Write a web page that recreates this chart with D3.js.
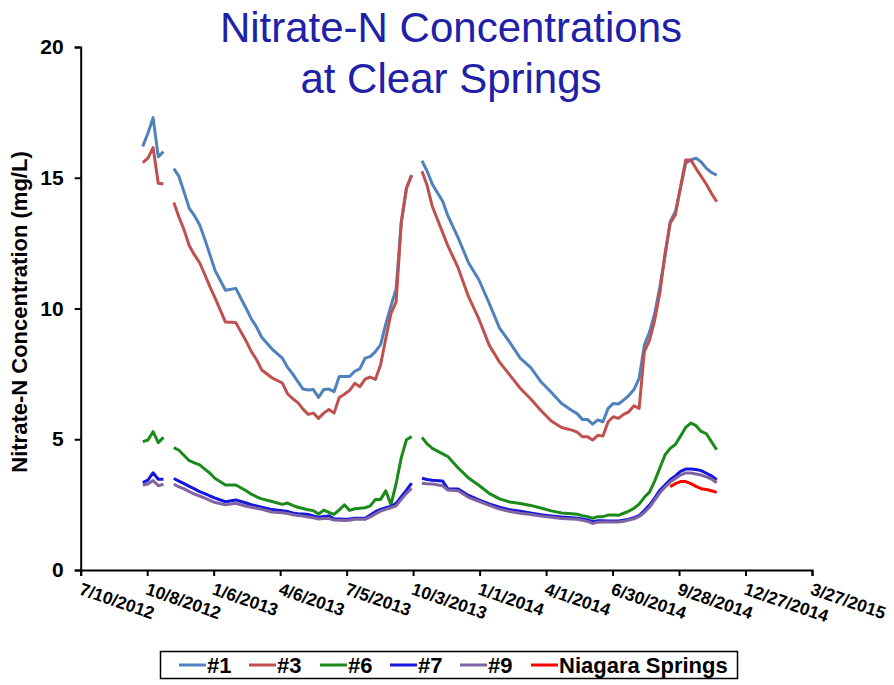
<!DOCTYPE html>
<html><head><meta charset="utf-8">
<script src="https://cdn.jsdelivr.net/npm/d3@7"></script>
<style>body{margin:0;background:#fff}svg{display:block}text{font-family:"Liberation Sans",Arial,sans-serif}</style>
</head><body><svg id="c" width="894" height="685"></svg>
<script>
const dates = ["2012-10-02","2012-10-09","2012-10-16","2012-10-23","2012-10-30","2012-11-06","2012-11-13","2012-11-20","2012-11-27","2012-12-04",
"2012-12-11","2012-12-18","2012-12-25","2013-01-01","2013-01-08","2013-01-22","2013-02-05","2013-02-19","2013-02-26","2013-03-05",
"2013-03-12","2013-03-26","2013-04-09","2013-04-16","2013-04-23","2013-04-30","2013-05-07","2013-05-14","2013-05-21","2013-05-28",
"2013-06-04","2013-06-11","2013-06-18","2013-06-25","2013-07-02","2013-07-09","2013-07-16","2013-07-23","2013-07-30","2013-08-06",
"2013-08-13","2013-08-20","2013-08-27","2013-09-03","2013-09-10","2013-09-17","2013-09-24","2013-10-01","2013-10-08","2013-10-15",
"2013-10-22","2013-10-29","2013-11-12","2013-11-19","2013-12-03","2013-12-17","2013-12-31","2014-01-14","2014-01-28","2014-02-11",
"2014-02-25","2014-03-11","2014-03-25","2014-04-08","2014-04-22","2014-05-06","2014-05-13","2014-05-20","2014-05-27","2014-06-03",
"2014-06-10","2014-06-17","2014-06-24","2014-07-01","2014-07-08","2014-07-15","2014-07-22","2014-07-29","2014-08-05","2014-08-12",
"2014-08-19","2014-08-26","2014-09-02","2014-09-09","2014-09-16","2014-09-23","2014-09-30","2014-10-07","2014-10-14","2014-10-21",
"2014-10-28","2014-11-04","2014-11-11","2014-11-18"];

const s1 = [16.2,16.7,17.3,15.8,16.0,null,15.35,15.05,14.45,13.83,
13.55,13.2,12.65,12.05,11.45,10.7,10.77,10.0,9.6,9.3,
8.9,8.45,8.1,7.75,7.5,7.2,6.92,6.88,6.9,6.6,
6.9,6.92,6.82,7.4,7.4,7.4,7.6,7.7,8.1,8.16,
8.35,8.62,9.4,10.1,10.75,13.3,14.6,15.1,null,15.65,
15.25,14.75,14.1,13.55,12.7,11.75,11.1,10.2,9.25,8.7,
8.1,7.75,7.2,6.8,6.37,6.1,5.98,5.76,5.76,5.58,
5.74,5.67,6.18,6.37,6.35,6.5,6.67,6.9,7.33,8.6,
9.1,9.8,10.83,12.0,13.32,13.7,14.6,15.55,15.68,15.75,
15.6,15.36,15.2,15.1];

const s3 = [15.58,15.75,16.15,14.79,14.76,null,14.05,13.5,13.0,12.4,
12.05,11.75,11.3,10.83,10.4,9.48,9.46,8.75,8.35,8.05,
7.65,7.35,7.15,6.74,6.55,6.4,6.15,5.95,6.0,5.8,
6.0,6.14,6.0,6.6,6.72,6.87,7.14,7.01,7.3,7.38,
7.29,7.85,8.85,9.8,10.25,13.3,14.6,15.1,null,15.25,
14.7,13.9,12.9,12.4,11.55,10.45,9.6,8.6,7.95,7.45,
6.95,6.55,6.1,5.7,5.45,5.35,5.27,5.1,5.1,4.97,
5.15,5.12,5.67,5.86,5.8,5.95,6.05,6.28,6.18,8.35,
8.78,9.55,10.58,12.1,13.26,13.58,14.65,15.68,15.68,15.35,
15.05,14.75,14.4,14.08];

const s6 = [4.91,4.97,5.29,4.87,5.07,null,4.68,4.58,4.38,4.18,
4.1,4.02,3.86,3.7,3.5,3.25,3.25,3.03,2.9,2.8,
2.72,2.62,2.51,2.56,2.47,2.4,2.35,2.3,2.27,2.14,
2.29,2.2,2.13,2.3,2.49,2.28,2.34,2.36,2.38,2.45,
2.7,2.7,3.03,2.5,3.3,4.3,4.98,5.1,null,5.07,
4.82,4.65,4.44,4.34,3.9,3.52,3.24,2.93,2.72,2.6,
2.54,2.47,2.37,2.26,2.18,2.15,2.13,2.08,2.04,1.98,
2.04,2.04,2.1,2.1,2.09,2.17,2.25,2.36,2.52,2.78,
2.98,3.4,3.9,4.4,4.65,4.8,5.12,5.45,5.62,5.52,
5.3,5.21,4.9,4.6];

const s7 = [3.34,3.44,3.72,3.47,3.47,null,3.5,3.4,3.3,3.2,
3.1,3.0,2.92,2.83,2.75,2.61,2.68,2.56,2.5,2.45,
2.4,2.31,2.27,2.24,2.18,2.15,2.14,2.12,2.07,2.02,
2.05,2.07,1.96,1.95,1.94,1.95,1.98,1.98,1.98,2.1,
2.23,2.32,2.38,2.43,2.55,2.8,3.05,3.32,null,3.51,
3.46,3.43,3.4,3.1,3.1,2.85,2.68,2.53,2.4,2.3,
2.25,2.18,2.11,2.07,2.03,2.0,1.98,1.95,1.91,1.85,
1.88,1.88,1.87,1.87,1.87,1.9,1.94,2.0,2.08,2.27,
2.48,2.75,3.05,3.25,3.45,3.6,3.77,3.86,3.86,3.84,
3.8,3.7,3.6,3.45];

const s9 = [3.25,3.29,3.42,3.22,3.28,null,3.28,3.18,3.1,3.0,
2.9,2.83,2.75,2.66,2.58,2.49,2.55,2.44,2.4,2.36,
2.32,2.22,2.19,2.16,2.11,2.08,2.06,2.03,2.0,1.95,
1.97,1.97,1.91,1.9,1.89,1.9,1.94,1.94,1.94,2.03,
2.14,2.25,2.32,2.38,2.45,2.7,2.93,3.12,null,3.32,
3.3,3.29,3.22,3.06,3.03,2.78,2.63,2.47,2.33,2.24,
2.17,2.12,2.06,2.02,1.97,1.95,1.94,1.9,1.86,1.78,
1.83,1.84,1.84,1.84,1.84,1.86,1.91,1.96,2.04,2.2,
2.4,2.67,2.95,3.17,3.36,3.5,3.63,3.71,3.71,3.67,
3.63,3.56,3.48,3.34];

const niagaraDates = ["2014-09-16","2014-09-23","2014-09-30","2014-10-07","2014-10-14","2014-10-21","2014-10-28","2014-11-04","2014-11-11","2014-11-18"];
const niagara = [3.19,3.3,3.38,3.38,3.3,3.2,3.11,3.08,3.03,2.97];

const seriesNames = ["#1","#3","#6","#7","#9","Niagara Springs"];
const seriesColors = ["#4F81BD","#C0504D","#1A8A1A","#1515E0","#8064A2","#FF0000"];
const yTicks = [0,5,10,15,20];
const xTickLabels = ["7/10/2012","10/8/2012","1/6/2013","4/6/2013","7/5/2013","10/3/2013","1/1/2014","4/1/2014","6/30/2014","9/28/2014","12/27/2014","3/27/2015"];
const titleLines = ["Nitrate-N Concentrations","at Clear Springs"];
const yTitle = "Nitrate-N Concentration (mg/L)";

const parse = d3.timeParse("%Y-%m-%d");
const parseTick = d3.timeParse("%m/%d/%Y");
const svg = d3.select("#c");
const L = 80.7, R = 812, T = 47, B = 570;
const tickDates = xTickLabels.map(s => parseTick(s));
const x = d3.scaleTime().domain([tickDates[0], tickDates[tickDates.length-1]]).range([L, R]);
const y = d3.scaleLinear().domain([0,20]).range([B, T]);
const FF = '"Liberation Sans",Arial,sans-serif';

// title
svg.append("g").selectAll("text").data(titleLines).join("text")
  .attr("x", 451).attr("y", (d,i) => 42 + i*51)
  .attr("text-anchor","middle").attr("font-size", 42).attr("fill","#2020A8").text(d => d);

// y axis
const ya = svg.append("g").attr("transform", `translate(${L},0)`)
  .call(d3.axisLeft(y).tickValues(yTicks).tickSize(6).tickPadding(11).tickFormat(d3.format("d")));
ya.select(".domain").attr("stroke","#000").attr("stroke-width",2);
ya.selectAll(".tick line").attr("stroke","#000").attr("stroke-width",2);
ya.selectAll(".tick text").attr("font-size",21).attr("font-weight","bold").attr("fill","#000")
  .style("font-family",FF);

// x axis
const xa = svg.append("g").attr("transform", `translate(0,${B})`)
  .call(d3.axisBottom(x).tickValues(tickDates).tickSize(6).tickFormat((d,i) => xTickLabels[i]));
xa.select(".domain").attr("stroke","#000").attr("stroke-width",2);
xa.selectAll(".tick line").attr("stroke","#000").attr("stroke-width",2);
xa.selectAll(".tick text").attr("font-size",17.5).attr("font-weight","bold").attr("fill","#000")
  .style("font-family",FF)
  .attr("text-anchor","start").attr("y",0).attr("dy",0)
  .attr("transform","translate(-3,24) rotate(19)");

// y title
svg.append("text").attr("transform","translate(27,312) rotate(-90)")
  .attr("text-anchor","middle").attr("font-size",22).attr("font-weight","bold").text(yTitle);

// lines
const line = d3.line().defined(d => d[1] != null).x(d => x(d[0])).y(d => y(d[1]));
const allSeries = [s1,s3,s6,s7,s9].map(vals => vals.map((v,i) => [parse(dates[i]), v]));
allSeries.push(niagara.map((v,i) => [parse(niagaraDates[i]), v]));
svg.append("g").selectAll("path").data(allSeries).join("path")
  .attr("d", line).attr("fill","none")
  .attr("stroke", (d,i) => seriesColors[i]).attr("stroke-width",3)
  .attr("stroke-linejoin","round").attr("stroke-linecap","butt");

// legend
const lg = svg.append("g");
lg.append("rect").attr("x",160.5).attr("y",651.5).attr("width",577).attr("height",27)
  .attr("fill","#fff").attr("stroke","#000").attr("stroke-width",1.5);
const itemX = [179,249,320,390,460,531];
const items = lg.selectAll("g.it").data(seriesNames).join("g").attr("class","it")
  .attr("transform",(d,i) => `translate(${itemX[i]},665)`);
items.append("line").attr("x1",0).attr("x2",27).attr("y1",0).attr("y2",0)
  .attr("stroke",(d,i) => seriesColors[i]).attr("stroke-width",3);
items.append("text").attr("x",28).attr("y",7.5).attr("font-size",22).attr("font-weight","bold").text(d => d);
</script></body></html>
